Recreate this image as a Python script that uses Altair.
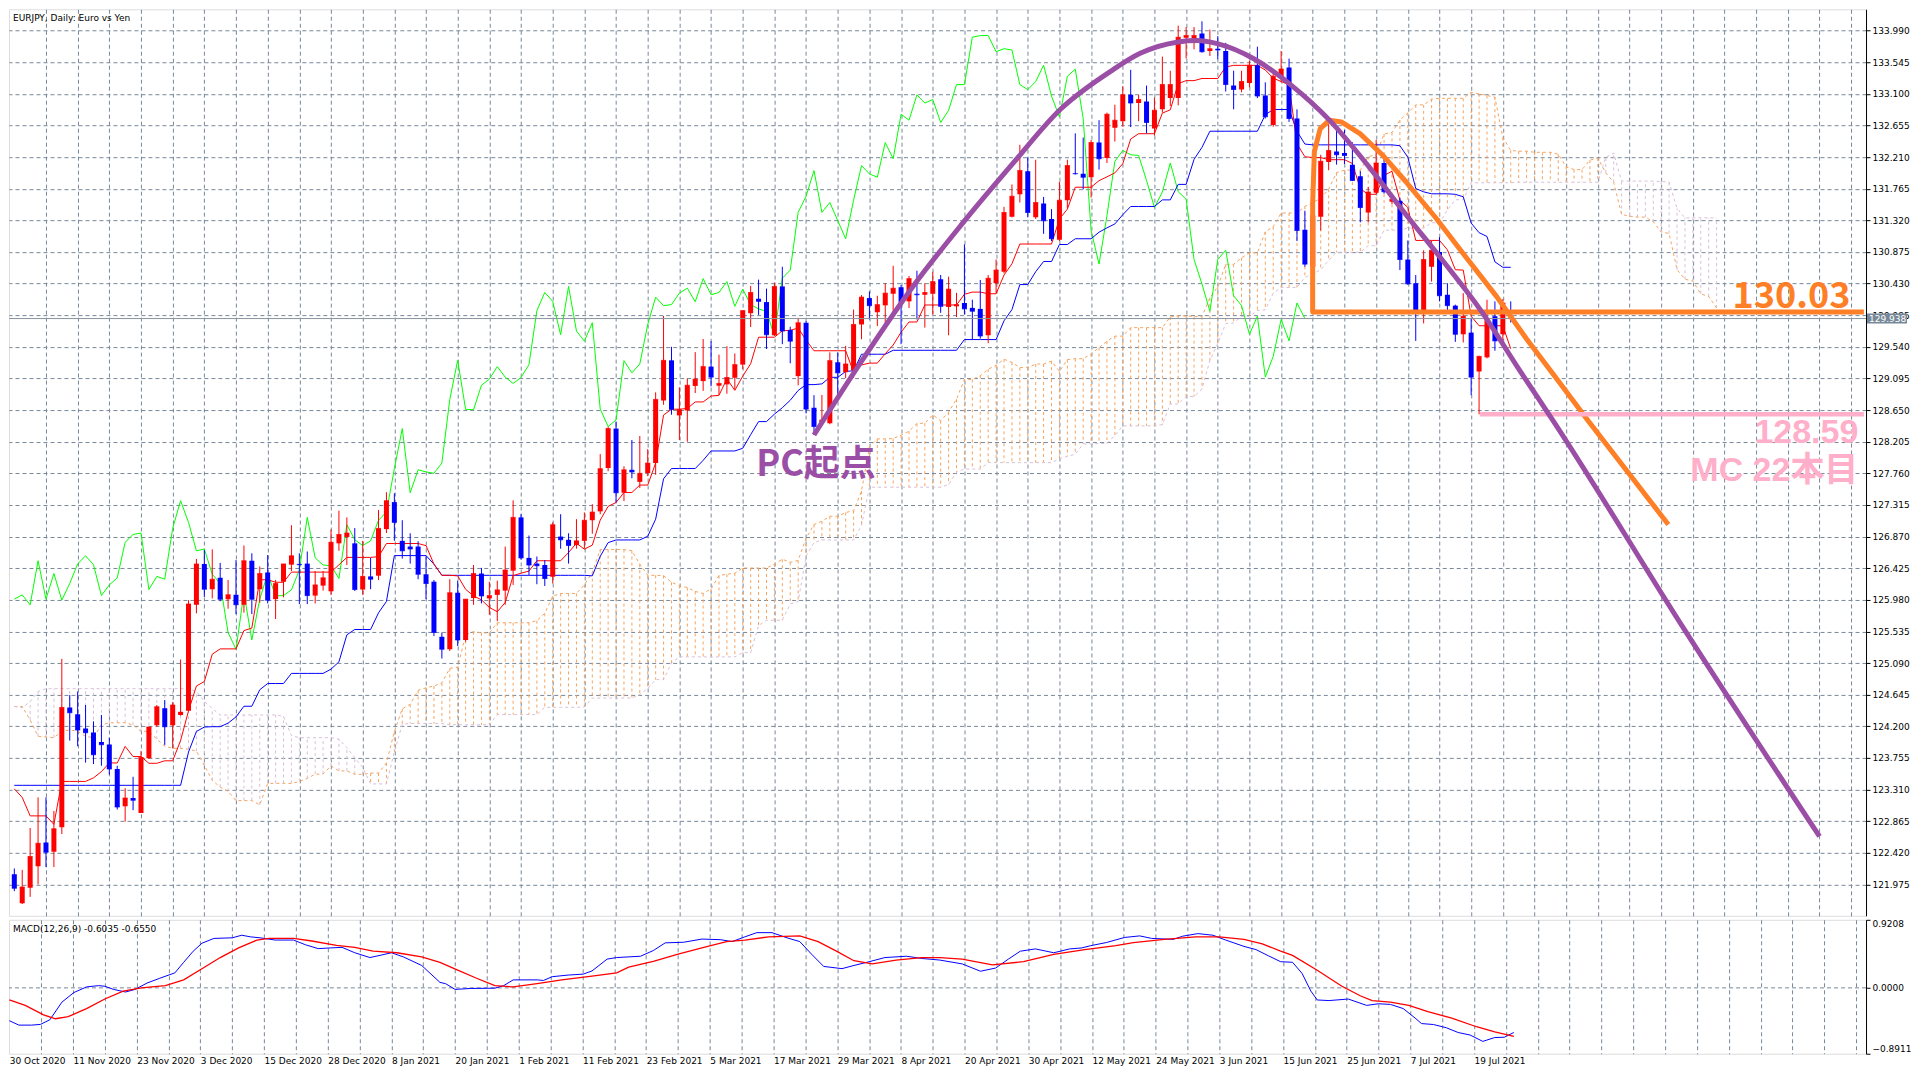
import altair as alt
import numpy as np
import pandas as pd

# ---------------- data ----------------
OPEN = [
    122.12, 121.71, 121.93, 122.23, 122.565, 122.435, 122.78, 124.465, 124.37, 124.17,
    124.115, 123.98, 123.945, 123.60, 123.075, 123.19, 122.98, 123.75, 124.215, 124.455,
    124.215, 124.36, 124.42, 125.91, 126.485, 126.13, 126.29, 125.99, 126.05, 125.91,
    126.53, 126.13, 126.365, 125.99, 126.235, 126.475, 126.485, 126.49, 126.04, 126.18,
    126.10, 126.775, 126.865, 126.775, 126.125, 126.31, 126.32, 126.975, 127.355, 126.81,
    126.73, 126.73, 126.34, 126.235, 125.46, 125.285, 126.08, 125.415, 126.005, 126.35,
    126.0, 126.05, 126.11, 126.39, 127.14, 126.57, 126.49, 126.47, 126.305, 126.87,
    126.825, 126.75, 126.81, 127.10, 127.225, 127.835, 128.39, 127.487, 127.81, 127.64,
    127.765, 127.905, 128.785, 129.35, 128.575, 128.645, 128.99, 129.058, 129.262, 128.993,
    129.012, 129.105, 129.29, 130.013, 130.217, 130.17, 129.703, 130.39, 129.777, 129.128,
    129.879, 128.683, 128.479, 128.465, 129.323, 129.183, 129.207, 129.855, 130.226, 130.027,
    130.124, 130.287, 130.379, 130.18, 130.287, 130.273, 130.287, 130.491, 130.101, 130.11,
    130.157, 130.088, 130.074, 129.703, 130.435, 130.597, 131.371, 131.686, 132.011, 131.362,
    131.557, 131.339, 131.047, 131.603, 131.983, 131.974, 131.927, 132.414, 132.196, 132.623,
    132.715, 133.086, 132.97, 132.993, 132.613, 132.882, 133.04, 133.04, 133.888, 133.874,
    133.948, 133.703, 133.735, 133.703, 133.216, 133.16, 133.253, 133.503, 133.077, 132.66,
    133.332, 133.471, 132.752, 131.186, 130.667, 131.371, 132.141, 132.289, 132.266, 132.104,
    131.941, 131.431, 131.71, 132.127, 131.58, 131.594, 130.769, 130.435, 130.041, 130.667,
    130.875, 130.273, 130.12, 129.717, 129.74, 129.193, 129.392, 129.971, 129.717, 129.95,
]
HIGH = [
    122.20, 122.18, 122.77, 123.20, 123.20, 123.01, 125.15, 124.64, 124.69, 124.50,
    124.27, 124.36, 124.04, 123.645, 123.33, 123.49, 123.85, 124.19, 124.50, 124.57,
    124.54, 125.14, 125.975, 126.555, 126.68, 126.69, 126.50, 126.26, 126.54, 126.745,
    126.635, 126.45, 126.61, 126.26, 126.485, 127.03, 126.635, 126.66, 126.385, 126.385,
    126.97, 127.235, 127.14, 126.99, 126.81, 126.57, 127.245, 127.495, 127.48, 127.10,
    126.917, 126.805, 126.59, 126.26, 125.52, 126.27, 126.25, 125.99, 126.47, 126.43,
    126.235, 126.25, 126.73, 127.38, 127.185, 126.885, 126.59, 126.54, 127.07, 127.185,
    126.917, 127.115, 127.21, 127.325, 128.03, 128.415, 128.49, 127.86, 128.23, 128.285,
    128.10, 128.90, 129.975, 129.54, 128.97, 129.095, 129.466, 129.65, 129.62, 129.43,
    129.55, 129.447, 130.05, 130.398, 130.486, 130.36, 130.444, 130.667, 129.823, 129.948,
    129.902, 128.86, 128.863, 129.462, 129.462, 129.554, 130.064, 130.268, 130.319, 130.259,
    130.435, 130.68, 130.412, 130.537, 130.611, 130.435, 130.597, 130.551, 130.528, 130.30,
    130.982, 130.203, 130.481, 130.551, 130.769, 131.51, 131.825, 132.382, 132.206, 132.173,
    131.65, 131.478, 131.862, 132.173, 132.544, 132.484, 132.451, 132.729, 132.836, 132.947,
    133.207, 133.438, 133.086, 133.216, 133.049, 133.624, 133.425, 134.06, 134.04, 134.04,
    134.12, 134.004, 133.911, 133.818, 133.425, 133.425, 133.564, 133.763, 133.262, 133.401,
    133.703, 133.596, 132.882, 131.455, 131.455, 132.243, 132.729, 132.59, 132.59, 132.419,
    132.011, 131.788, 132.451, 132.187, 131.64, 131.64, 131.037, 130.551, 130.899, 131.037,
    131.084, 130.435, 130.134, 130.296, 129.948, 129.415, 130.203, 130.18, 130.212, 130.18,
]
LOW = [
    121.88, 121.70, 121.80, 121.975, 122.22, 122.22, 122.685, 124.0, 123.92, 123.69,
    123.67, 123.645, 123.52, 123.03, 122.86, 123.02, 122.98, 123.74, 124.19, 123.94,
    123.89, 124.35, 124.42, 125.79, 126.02, 126.0, 125.96, 125.855, 125.78, 125.80,
    125.78, 125.94, 125.93, 125.71, 126.015, 126.385, 125.92, 125.92, 125.93, 126.11,
    126.05, 126.67, 126.47, 126.105, 126.05, 126.13, 126.26, 126.92, 126.81, 126.56,
    126.49, 126.27, 125.99, 125.47, 125.155, 125.26, 125.33, 125.39, 125.91, 125.93,
    125.77, 125.68, 125.91, 126.19, 126.545, 126.33, 126.2, 126.175, 126.21, 126.70,
    126.49, 126.70, 126.70, 126.91, 127.185, 127.79, 127.35, 127.37, 127.69, 127.555,
    127.72, 127.74, 128.725, 128.585, 128.23, 128.205, 128.89, 128.92, 128.984, 128.865,
    128.88, 128.94, 129.225, 129.818, 129.99, 129.51, 129.694, 129.578, 129.309, 128.998,
    128.604, 128.303, 128.451, 128.451, 128.813, 129.10, 129.10, 129.647, 129.925, 129.832,
    129.81, 129.995, 129.578, 130.087, 129.925, 129.81, 129.995, 130.018, 129.703, 129.96,
    129.995, 129.638, 129.656, 129.592, 130.296, 130.574, 131.362, 131.571, 131.362, 131.339,
    131.13, 131.028, 131.028, 131.492, 131.965, 131.756, 131.64, 132.034, 132.127, 132.428,
    132.637, 132.632, 132.715, 132.544, 132.512, 132.836, 132.929, 132.938, 133.596, 133.726,
    133.68, 133.633, 133.587, 133.133, 132.882, 133.123, 133.193, 133.04, 132.752, 132.637,
    133.262, 132.706, 131.028, 130.667, 130.644, 131.177, 132.025, 132.104, 132.113, 131.872,
    131.292, 131.292, 131.696, 131.696, 131.547, 130.62, 130.412, 129.624, 129.87, 130.458,
    130.18, 130.041, 129.61, 129.601, 128.859, 128.59, 129.378, 129.485, 129.578, 129.883,
]
CLOSE = [
    121.92, 121.94, 122.37, 122.555, 122.43, 122.76, 124.465, 124.39, 124.15, 124.11,
    123.80, 123.94, 123.60, 123.065, 123.19, 123.16, 123.76, 124.19, 124.475, 124.195,
    124.50, 124.40, 125.92, 126.485, 126.13, 126.27, 125.99, 126.05, 125.91, 126.53,
    125.99, 126.35, 125.975, 126.21, 126.485, 126.60, 126.475, 126.04, 126.19, 126.29,
    126.79, 126.90, 126.92, 126.125, 126.31, 126.27, 126.985, 127.375, 127.07, 126.67,
    126.695, 126.34, 126.21, 125.52, 125.285, 126.08, 125.415, 125.99, 126.35, 126.035,
    126.04, 126.12, 126.40, 127.14, 126.57, 126.47, 126.46, 126.28, 127.037, 126.825,
    126.745, 126.81, 127.10, 127.215, 127.825, 128.39, 127.487, 127.81, 127.78, 127.76,
    127.905, 128.80, 129.35, 128.66, 128.655, 129.0, 129.086, 129.262, 129.114, 129.025,
    129.109, 129.29, 130.05, 130.305, 130.18, 129.71, 130.39, 129.763, 129.62, 129.879,
    128.664, 128.419, 128.511, 129.346, 129.174, 129.299, 129.855, 130.24, 130.12, 130.134,
    130.296, 130.365, 130.175, 130.5, 130.273, 130.305, 130.458, 130.11, 130.352, 130.134,
    130.074, 130.041, 129.693, 130.505, 130.62, 131.432, 131.659, 132.02, 131.432, 131.571,
    131.316, 131.061, 131.603, 132.09, 131.974, 131.927, 132.414, 132.187, 132.813, 132.729,
    133.086, 132.97, 133.021, 132.697, 132.868, 133.23, 133.23, 133.897, 133.92, 133.92,
    133.693, 133.735, 133.717, 133.23, 133.16, 133.272, 133.503, 133.068, 132.776, 133.346,
    133.448, 132.752, 131.177, 130.704, 131.385, 132.15, 132.303, 132.243, 132.233, 131.881,
    131.501, 131.719, 132.127, 131.723, 131.617, 130.769, 130.426, 130.041, 130.769, 130.899,
    130.259, 130.12, 129.717, 129.971, 129.114, 129.406, 129.925, 129.624, 130.157, 129.938,
]

# Ichimoku values before enough history is on the chart
TENKAN_EARLY = [123.32, 123.20, 122.94, 122.94, 122.94, 122.82]
KIJUN_EARLY = [123.37, 123.37, 123.37, 123.37, 123.37, 123.37, 123.37, 123.37, 123.37, 123.37, 123.37,
               123.37, 123.37, 123.37, 123.37, 123.37, 123.37, 123.37, 123.37, 123.37, 123.37, 123.37]
SPAN_A_EARLY = [124.48, 124.48, 124.29, 124.06, 124.05, 124.04, 124.13, 124.15, 124.13, 124.06,
                124.04, 124.22, 124.25, 124.25, 124.25, 124.22, 124.13, 124.13, 124.02, 123.92,
                123.89, 123.89, 123.88, 123.85, 123.65, 123.44]
SPAN_B_EARLY = [124.48, 124.46, 124.55, 124.69, 124.73, 124.73, 124.73, 124.73, 124.73, 124.73,
                124.73, 124.73, 124.73, 124.73, 124.73, 124.73, 124.73, 124.73, 124.73, 124.73,
                124.73, 124.73, 124.73, 124.69, 124.55, 124.45, 124.36, 124.36, 124.36, 124.36,
                124.36, 124.36, 124.36, 124.36, 124.34, 124.07, 124.04, 124.04, 124.04, 124.04,
                124.04, 124.02, 123.90, 123.76, 123.62, 123.39, 123.39, 123.39, 123.84, 124.23,
                124.24, 124.24, 124.24, 124.24, 124.24]

# MACD(12,26,9) lines: (bar index, value)
MACD_MAIN = [
    (0, -0.444), (1.2, -0.504), (2.8, -0.504), (3.9, -0.495), (5.1, -0.431), (6.6, -0.194), (8.1, -0.064),
    (9.7, 0.013), (11.2, 0.030), (12.0, 0.022), (13.1, -0.021), (14.6, -0.056), (15.8, -0.021), (17.3, 0.065),
    (18.9, 0.130), (20.8, 0.203), (21.9, 0.345), (23.1, 0.496), (24.2, 0.604), (25.7, 0.669), (28.0, 0.677),
    (29.2, 0.712), (30.3, 0.690), (31.5, 0.677), (33.4, 0.647), (35.7, 0.647), (37.2, 0.583), (38.8, 0.531),
    (40.3, 0.540), (41.8, 0.548), (43.4, 0.475), (45.3, 0.410), (46.8, 0.445), (48.0, 0.475), (49.5, 0.419),
    (51.8, 0.303), (54.1, 0.074), (54.8, 0.057), (56.0, -0.021), (57.9, -0.008), (61.0, -0.004), (62.1, 0.030),
    (63.3, 0.108), (66.3, 0.108), (67.1, 0.100), (68.2, 0.151), (70.2, 0.173), (72.1, 0.186), (73.2, 0.229),
    (75.1, 0.389), (76.3, 0.410), (79.3, 0.428), (80.9, 0.505), (82.4, 0.609), (84.7, 0.617), (87.0, 0.660),
    (89.3, 0.652), (90.8, 0.626), (92.4, 0.690), (93.9, 0.747), (95.8, 0.747), (97.7, 0.677), (99.3, 0.626),
    (100.8, 0.453), (102.3, 0.290), (104.6, 0.260), (106.1, 0.303), (107.7, 0.345), (110.0, 0.410),
    (112.7, 0.428), (114.6, 0.398), (116.9, 0.376), (119.7, 0.324), (122.0, 0.225), (123.9, 0.268),
    (125.5, 0.389), (127.0, 0.496), (128.9, 0.527), (131.2, 0.475), (133.2, 0.527), (134.7, 0.540),
    (135.8, 0.570), (137.8, 0.613), (140.1, 0.682), (142.0, 0.703), (143.5, 0.669), (146.2, 0.656),
    (147.4, 0.699), (149.3, 0.734), (151.2, 0.712), (152.8, 0.647), (155.1, 0.561), (156.6, 0.518),
    (158.2, 0.432), (159.7, 0.354), (161.2, 0.346), (162.4, 0.195), (163.5, -0.043), (164.3, -0.164),
    (165.8, -0.172), (168.2, -0.151), (170.5, -0.237), (172.0, -0.215), (173.5, -0.224), (175.1, -0.280),
    (176.6, -0.409), (177.4, -0.483), (178.9, -0.496), (180.5, -0.539), (182.0, -0.604), (183.5, -0.638),
    (185.1, -0.724), (186.6, -0.672), (187.8, -0.668), (189.0, -0.6035),
]
MACD_SIGNAL = [
    (0, -0.163), (2.0, -0.237), (4.3, -0.366), (5.8, -0.418), (7.4, -0.388), (9.7, -0.280), (12.0, -0.151),
    (14.3, -0.043), (16.6, 0.0), (19.6, 0.030), (21.9, 0.108), (24.2, 0.259), (26.5, 0.410), (28.8, 0.540),
    (31.1, 0.647), (32.6, 0.669), (35.7, 0.669), (38.0, 0.634), (41.1, 0.574), (43.4, 0.548), (45.7, 0.496),
    (48.7, 0.475), (51.8, 0.419), (54.1, 0.345), (56.4, 0.237), (58.7, 0.130), (61.0, 0.030), (63.3, 0.013),
    (66.3, 0.057), (69.4, 0.108), (73.2, 0.160), (76.3, 0.203), (77.8, 0.281), (80.9, 0.359), (83.9, 0.453),
    (87.0, 0.540), (90.1, 0.626), (92.4, 0.647), (95.4, 0.690), (99.3, 0.703), (101.6, 0.626), (103.9, 0.496),
    (106.1, 0.367), (108.4, 0.324), (111.4, 0.376), (114.6, 0.410), (116.9, 0.410), (119.7, 0.389),
    (123.5, 0.311), (127.4, 0.354), (131.2, 0.453), (135.1, 0.518), (139.0, 0.570), (141.2, 0.613),
    (145.1, 0.656), (149.0, 0.690), (152.0, 0.690), (155.1, 0.656), (157.4, 0.596), (159.7, 0.496),
    (161.2, 0.440), (164.3, 0.238), (167.4, 0.022), (169.7, -0.107), (171.2, -0.172), (173.5, -0.194),
    (175.8, -0.237), (178.2, -0.323), (181.2, -0.410), (184.3, -0.526), (186.6, -0.595), (189.0, -0.655),
]

# hand-drawn analysis lines (bar index, price)
PURPLE_ARC = [
    (101.0, 128.30), (107.2, 129.37), (113.5, 130.39), (119.7, 131.27), (125.96, 132.10), (132.2, 132.89),
    (138.5, 133.42), (142.2, 133.67), (147.0, 133.83), (149.4, 133.85), (151.8, 133.81), (156.6, 133.59),
    (161.3, 133.22), (166.1, 132.73), (170.9, 132.10), (175.7, 131.41), (180.5, 130.74), (185.3, 130.04),
    (190.0, 129.23), (194.3, 128.51), (211.0, 125.55), (228.0, 122.65),
]
ORANGE_PATH = [
    (233.6, 130.03), (163.98, 130.03), (163.98, 131.55), (164.2, 132.29), (164.94, 132.61), (166.1, 132.73),
    (167.6, 132.705), (169.96, 132.54), (172.8, 132.24), (175.7, 131.87), (179.5, 131.36), (183.35, 130.80),
    (187.2, 130.25), (191.0, 129.65), (194.8, 129.09), (198.7, 128.51), (208.9, 127.04),
]
PINK_LEVEL = 128.59
PINK_START = 185.1
CURRENT_PRICE = 129.938

# annotation texts; the two pink lines form one two-line label
ORANGE_TEXT = "130.03"
ORANGE_TEXT_POS = (231.9, 130.09)
PINK_TEXT = ["128.59", "MC 22本目"]
PINK_TEXT_POS = (232.9, 128.19)
PURPLE_TEXT = "PC起点"
PURPLE_TEXT_POS = (93.7, 127.72)

Y_TICKS = [121.975, 122.420, 122.865, 123.310, 123.755, 124.200, 124.645, 125.090, 125.535, 125.980,
           126.425, 126.870, 127.315, 127.760, 128.205, 128.650, 129.095, 129.540, 129.985, 130.430,
           130.875, 131.320, 131.765, 132.210, 132.655, 133.100, 133.545, 133.990]
MACD_TICKS = [-0.8911, 0.0, 0.9208]
DATE_LABELS = ["30 Oct 2020", "11 Nov 2020", "23 Nov 2020", "3 Dec 2020", "15 Dec 2020", "28 Dec 2020",
               "8 Jan 2021", "20 Jan 2021", "1 Feb 2021", "11 Feb 2021", "23 Feb 2021", "5 Mar 2021",
               "17 Mar 2021", "29 Mar 2021", "8 Apr 2021", "20 Apr 2021", "30 Apr 2021", "12 May 2021",
               "24 May 2021", "3 Jun 2021", "15 Jun 2021", "25 Jun 2021", "7 Jul 2021", "19 Jul 2021"]
TITLE = "EURJPY, Daily:  Euro vs Yen"
MACD_TITLE = "MACD(12,26,9) -0.6035 -0.6550"

# ---------------- indicator derivation (Ichimoku from OHLC) ----------------
n = len(CLOSE)
O, H, L, C = (np.array(v, dtype=float) for v in (OPEN, HIGH, LOW, CLOSE))


def midpoint(period, j):
    lo = max(0, j - period + 1)
    return float((H[lo:j + 1].max() + L[lo:j + 1].min()) / 2)


tenkan = [TENKAN_EARLY[i] if i < len(TENKAN_EARLY) else midpoint(9, i) for i in range(n)]
kijun = [KIJUN_EARLY[i] if i < len(KIJUN_EARLY) else midpoint(26, i) for i in range(n)]
span_a = [SPAN_A_EARLY[i] if i < len(SPAN_A_EARLY) else (tenkan[i - 26] + kijun[i - 26]) / 2
          for i in range(n + 26)]
span_b = [SPAN_B_EARLY[i] if i < len(SPAN_B_EARLY) else midpoint(52, i - 26) for i in range(n + 26)]

BULL, BEAR = "#ff0000", "#0000ff"
SANDY, THISTLE = "#f4a460", "#d8bfd8"
ORANGE, PINK, PURPLE = "#ff7f27", "#ffafc9", "#9b4ea5"

candles = pd.DataFrame({"i": np.arange(n), "o": O, "h": H, "l": L, "c": C,
                        "col": np.where(C >= O, BULL, BEAR)})
lines = pd.DataFrame({"i": np.arange(n), "tenkan": tenkan, "kijun": kijun})
chikou = pd.DataFrame({"i": np.arange(n - 26), "v": CLOSE[26:]})
cloud = pd.DataFrame({"i": np.arange(n + 26), "a": span_a, "b": span_b})
cloud["col"] = np.where(cloud["a"] >= cloud["b"], SANDY, THISTLE)
purple = pd.DataFrame(PURPLE_ARC, columns=["i", "p"])
orange = pd.DataFrame(ORANGE_PATH, columns=["i", "p"])
orange["k"] = np.arange(len(orange))
pink = pd.DataFrame({"i": [PINK_START], "i2": [233.6], "p": [PINK_LEVEL]})
cur = pd.DataFrame({"p": [CURRENT_PRICE], "t": [f"{CURRENT_PRICE:.3f}"]})
macd_main = pd.DataFrame(MACD_MAIN, columns=["i", "v"])
macd_sig = pd.DataFrame(MACD_SIGNAL, columns=["i", "v"])

# ---------------- chart ----------------
W, H1, H2 = 1858, 907, 134
XDOM = [-0.04, 233.24]
YDOM = [121.534, 134.290]
MDOM = [-0.8911, 0.9208]
FONT = "DejaVu Sans"
GRID = "#778899"
CJK = "Noto Sans CJK JP"
LAT = "Liberation Sans, Noto Sans CJK JP"

xs = alt.Scale(domain=XDOM, nice=False, zero=False)
ys = alt.Scale(domain=YDOM, nice=False, zero=False)
ms = alt.Scale(domain=MDOM, nice=False, zero=False)
grid_vals = list(range(0, 233, 4))

x_axis_main = alt.Axis(values=grid_vals, grid=True, labels=False, ticks=False, domain=False, title=None,
                       gridColor=GRID, gridDash=[4, 3], gridWidth=1,
                       gridOpacity={"expr": "datum.value === 0 ? 0 : 1"})
y_axis_main = alt.Axis(orient="right", values=Y_TICKS, format=".3f", grid=True, gridColor=GRID,
                       gridDash=[4, 3], gridWidth=1, tickSize=4, tickColor="black", domain=True,
                       domainColor="black", labelFont=FONT, labelFontSize=9, labelColor="black",
                       labelPadding=2, title=None)

label_arr = "[" + ",".join(f"'{d}'" for d in DATE_LABELS) + "]"
label_expr = (f"(datum.value % 8 === 0 && datum.value / 8 < {len(DATE_LABELS)}) ? "
              f"{label_arr}[datum.value / 8] : ''")
x_axis_macd = alt.Axis(values=grid_vals, grid=True, ticks=False, domain=False, title=None,
                       gridColor=GRID, gridDash=[4, 3], gridWidth=1,
                       gridOpacity={"expr": "datum.value === 0 ? 0 : 1"},
                       labelExpr=label_expr, labelAlign="left", labelFont=FONT, labelFontSize=9,
                       labelColor="black", labelPadding=3, labelOverlap=False, labelFlush=False)
y_axis_macd = alt.Axis(orient="right", values=MACD_TICKS, format=".4f", grid=False, tickSize=4,
                       tickColor="black", domain=True, domainColor="black", labelFont=FONT,
                       labelFontSize=9, labelColor="black", labelPadding=2, labelFlush=True, title=None)


def X(field="i"):
    return alt.X(f"{field}:Q", scale=xs, axis=x_axis_main)


def Y(field):
    return alt.Y(f"{field}:Q", scale=ys, axis=y_axis_main)


COL = alt.Color("col:N", scale=None, legend=None)

hatch = alt.Chart(cloud).mark_rule(strokeDash=[3, 3], strokeWidth=1, clip=True).encode(
    x=X(), y=Y("a"), y2="b:Q", color=COL)
span_a_line = alt.Chart(cloud).mark_line(color=SANDY, strokeDash=[3, 3], strokeWidth=1, clip=True).encode(
    x=X(), y=Y("a"))
span_b_line = alt.Chart(cloud).mark_line(color=THISTLE, strokeDash=[3, 3], strokeWidth=1, clip=True).encode(
    x=X(), y=Y("b"))
chikou_line = alt.Chart(chikou).mark_line(color="#00ff00", strokeWidth=1, clip=True).encode(x=X(), y=Y("v"))
kijun_line = alt.Chart(lines).mark_line(color=BEAR, strokeWidth=1, clip=True).encode(x=X(), y=Y("kijun"))
tenkan_line = alt.Chart(lines).mark_line(color=BULL, strokeWidth=1, clip=True).encode(x=X(), y=Y("tenkan"))

wicks = alt.Chart(candles).mark_rule(strokeWidth=1, clip=True).encode(x=X(), y=Y("l"), y2="h:Q", color=COL)
bodies = alt.Chart(candles).mark_bar(size=5, clip=True, strokeWidth=0).encode(
    x=X(), y=Y("o"), y2="c:Q", color=COL)
body_edge = alt.Chart(candles).mark_tick(orient="horizontal", size=5, thickness=1, clip=True).encode(
    x=X(), y=Y("c"), color=COL)

cur_line = alt.Chart(cur).mark_rule(color="#8a939e", strokeWidth=1).encode(y=Y("p"))
pink_line = alt.Chart(pink).mark_rule(color=PINK, strokeWidth=4.5, clip=True).encode(
    x=X(), x2="i2:Q", y=Y("p"))
orange_line = alt.Chart(orange).mark_line(color=ORANGE, strokeWidth=5, clip=True,
                                          strokeJoin="round").encode(
    x=X(), y=Y("p"), order="k:Q")
purple_line = alt.Chart(purple).mark_line(color=PURPLE, strokeWidth=5, clip=True,
                                          interpolate="monotone").encode(x=X(), y=Y("p"))

TXT = dict(baseline="alphabetic", fontWeight="bold")
orange_text = alt.Chart(pd.DataFrame({"i": [ORANGE_TEXT_POS[0]], "p": [ORANGE_TEXT_POS[1]]})).mark_text(
    align="right", color=ORANGE, text=ORANGE_TEXT, font=CJK, fontSize=36, **TXT).encode(x=X(), y=Y("p"))
pink_text = alt.Chart(pd.DataFrame({"i": [PINK_TEXT_POS[0]], "p": [PINK_TEXT_POS[1]]})).mark_text(
    align="right", color=PINK, text=PINK_TEXT, lineHeight=38, font=LAT, fontSize=34, **TXT).encode(
    x=X(), y=Y("p"))
purple_text = alt.Chart(pd.DataFrame({"i": [PURPLE_TEXT_POS[0]], "p": [PURPLE_TEXT_POS[1]]})).mark_text(
    align="left", color=PURPLE, text=PURPLE_TEXT, font=CJK, fontSize=36, **TXT).encode(x=X(), y=Y("p"))

title_text = alt.Chart(pd.DataFrame({"t": [TITLE]})).mark_text(
    align="left", baseline="middle", font=FONT, fontSize=9, color="black").encode(
    x=alt.value(4), y=alt.value(9), text="t:N")
tag = alt.Chart(cur).mark_tick(orient="horizontal", size=40, thickness=10, color="#778899", opacity=1).encode(
    x=alt.value(W + 21), y=Y("p"))
tag_text = alt.Chart(cur).mark_text(align="left", baseline="middle", font=FONT, fontSize=9,
                                    color="white").encode(x=alt.value(W + 3), y=Y("p"), text="t:N")

main = alt.layer(
    hatch, span_a_line, span_b_line, chikou_line, kijun_line, tenkan_line,
    wicks, bodies, body_edge, cur_line, orange_line, pink_line, purple_line,
    orange_text, pink_text, purple_text, title_text, tag, tag_text,
).properties(width=W, height=H1)

XM = alt.X("i:Q", scale=xs, axis=x_axis_macd)
zero_line = alt.Chart(pd.DataFrame({"v": [0.0]})).mark_rule(color=GRID, strokeDash=[4, 3], strokeWidth=1).encode(
    y=alt.Y("v:Q", scale=ms, axis=y_axis_macd))
macd_blue = alt.Chart(macd_main).mark_line(color=BEAR, strokeWidth=1, clip=True).encode(
    x=XM, y=alt.Y("v:Q", scale=ms, axis=y_axis_macd))
macd_red = alt.Chart(macd_sig).mark_line(color=BULL, strokeWidth=1.3, clip=True).encode(
    x=XM, y=alt.Y("v:Q", scale=ms, axis=y_axis_macd))
macd_title = alt.Chart(pd.DataFrame({"t": [MACD_TITLE]})).mark_text(
    align="left", baseline="middle", font=FONT, fontSize=9, color="black").encode(
    x=alt.value(4), y=alt.value(9), text="t:N")

macd = alt.layer(zero_line, macd_blue, macd_red, macd_title).properties(width=W, height=H2)

chart = alt.vconcat(main, macd, spacing=2).properties(
    padding={"left": 0, "top": 0, "right": 0, "bottom": 0}
).configure_view(stroke="black", strokeWidth=1).configure(background="white")

chart.save("out.html", embed_options={"renderer": "svg", "actions": False})
